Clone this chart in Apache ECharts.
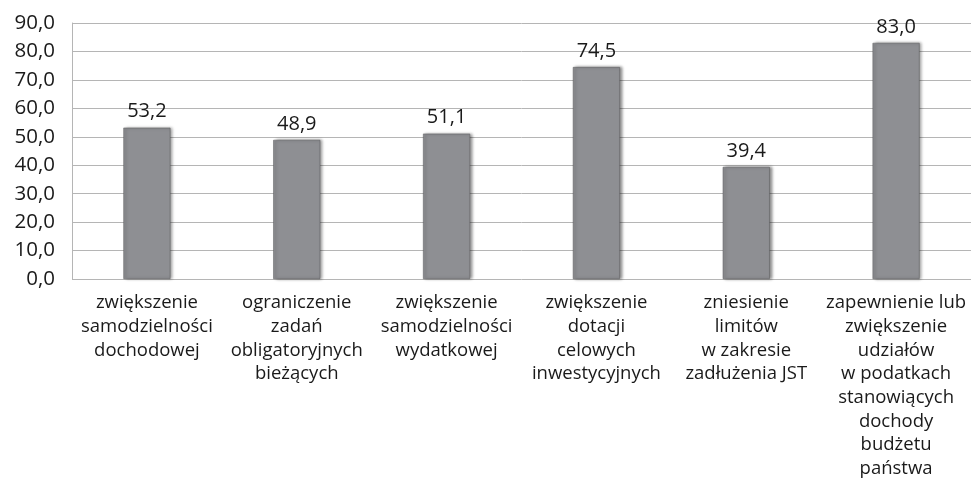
<!DOCTYPE html>
<html>
<head>
<meta charset="utf-8">
<script src="https://cdn.jsdelivr.net/npm/echarts@6/dist/echarts.min.js"></script>
<style>
  html, body { margin: 0; padding: 0; background: #fff; }
  #chart { width: 971px; height: 481px; }
</style>
</head>
<body>
<div id="chart"></div>
<script>
// kategorie (oś X)
const categories = [
  'zwiększenie\nsamodzielności\ndochodowej',
  'ograniczenie\nzadań\nobligatoryjnych\nbieżących',
  'zwiększenie\nsamodzielności\nwydatkowej',
  'zwiększenie\ndotacji\ncelowych\ninwestycyjnych',
  'zniesienie\nlimitów\nw zakresie\nzadłużenia JST',
  'zapewnienie lub\nzwiększenie\nudziałów\nw podatkach\nstanowiących\ndochody\nbudżetu\npaństwa'
]
// wartości (%)
const values = [53.2, 48.9, 51.1, 74.5, 39.4, 83.0]

const fmt = v => v.toFixed(1).replace('.', ',')

const chart = echarts.init(document.getElementById('chart'))
chart.setOption({
  animation: false,
  textStyle: { fontFamily: 'Open Sans' },
  grid: { left: 72, right: 0, top: 23, bottom: 202 },
  xAxis: {
    type: 'category',
    data: categories,
    axisTick: { show: false },
    axisLine: { show: false },
    axisLabel: {
      interval: 0,
      color: '#1a1a1a',
      fontSize: 18.5,
      lineHeight: 23.7,
      margin: 12
    }
  },
  yAxis: {
    type: 'value',
    min: 0,
    max: 90,
    interval: 10,
    axisLine: { show: true, lineStyle: { color: '#b5b5b5' } },
    axisTick: { show: false },
    splitLine: { lineStyle: { color: '#b5b5b5' } },
    axisLabel: {
      color: '#1a1a1a',
      fontSize: 20.5,
      margin: 17,
      formatter: fmt
    }
  },
  series: [{
    type: 'bar',
    data: values,
    barWidth: 47,
    itemStyle: {
      color: '#8e8f93',
      borderColor: '#5a5a5c',
      borderWidth: 0.5,
      shadowColor: 'rgba(0,0,0,0.45)',
      shadowBlur: 3,
      shadowOffsetX: 2,
      shadowOffsetY: 0
    },
    label: {
      show: true,
      position: 'top',
      distance: 6,
      color: '#1a1a1a',
      fontSize: 20,
      formatter: p => fmt(p.value)
    }
  }]
})
</script>
</body>
</html>
